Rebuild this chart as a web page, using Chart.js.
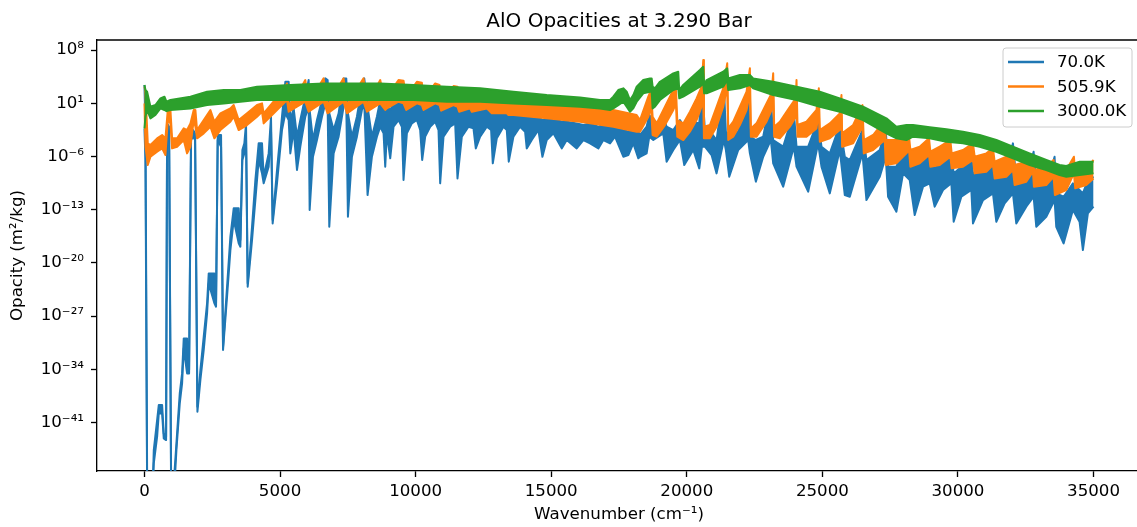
<!DOCTYPE html>
<html>
<head>
<meta charset="utf-8">
<title>AlO Opacities</title>
<script src="https://cdn.jsdelivr.net/npm/chart.js@4.4.0/dist/chart.umd.min.js"></script>
<style>
html, body { margin: 0; padding: 0; background: #fff; overflow: hidden; }
canvas { display: block; }
</style>
</head>
<body>
<canvas id="opacityChart" width="1141" height="527" style="width:1141px;height:527px"></canvas>
<script>
// Wavenumber (cm^-1) and log10 of opacity (m^2/kg): upper and lower edge of each dense line band
const blueX = [
    0, 37, 98, 307, 344, 467, 528, 651, 712, 798,
    835, 909, 982, 1105, 1179, 1302, 1388, 1449, 1572, 1646,
    1719, 1793, 1867, 1953, 2063, 2186, 2309, 2370, 2579, 2640,
    2702, 2825, 2898, 3046, 3169, 3291, 3476, 3537, 3611, 3684,
    3746, 3807, 3967, 4090, 4212, 4335, 4397, 4581, 4667, 4728,
    4888, 5072, 5195, 5318, 5379, 5502, 5625, 5748, 5932, 6055,
    6092, 6214, 6362, 6546, 6669, 6755, 6816, 6976, 7160, 7344,
    7442, 7504, 7651, 7835, 8019, 8106, 8228, 8388, 8572, 8695,
    8818, 8879, 8940, 9063, 9186, 9370, 9493, 9554, 9677, 9861,
    10046, 10168, 10242, 10353, 10537, 10721, 10844, 10905, 11028, 11274,
    11458, 11544, 11704, 11949, 12133, 12219, 12379, 12625, 12784, 12846,
    12993, 13239, 13362, 13435, 13607, 13853, 14037, 14098, 14283, 14528,
    14676, 14835, 15081, 15388, 15572, 15940, 16186, 16431, 16739, 16923,
    17169, 17353, 17660, 17844, 18028, 18213, 18274, 18519, 18617, 18765,
    18949, 19133, 19256, 19502, 19747, 19907, 20239, 20460, 20558, 20668,
    20914, 21098, 21368, 21442, 21565, 21897, 22265, 22327, 22547, 22818,
    23100, 23186, 23554, 23947, 24046, 24476, 24844, 24967, 25274, 25642,
    25827, 26011, 26478, 26625, 27116, 27337, 27423, 27730, 27976, 28221,
    28405, 28712, 28958, 29142, 29449, 29756, 29842, 30125, 30493, 30554,
    30923, 31291, 31414, 31721, 32028, 32151, 32519, 32790, 32888, 33256,
    33563, 33625, 33895, 34239, 34484, 34607, 34791, 35000
];
const blueHi = [
    3.39, -2.09, -47.7, -49.4, -44.63, -40.68, -38.71, -38.71, -42.44, -42.88,
    -1.65, -2.09, -47.7, -47.7, -43.75, -37.18, -34.55, -29.94, -29.94, -34.11,
    -2.53, -2.53, -2.96, -38.93, -34.11, -29.72, -25.33, -21.39, -21.39, -25.33,
    -3.19, -3.19, -31.03, -23.14, -16.56, -12.83, -12.83, -17.00, -5.16, -4.28,
    -1.65, -22.70, -15.25, -9.10, -4.28, -4.28, -8.67, -5.60, -0.77, -14.37,
    -7.79, -0.77, 3.83, 3.83, -1.21, 0.32, -3.40, -1.21, 1.86, 4.05,
    0.11, -3.84, -1.21, 1.42, 4.27, 4.05, -0.33, -2.53, -0.33, 4.27,
    4.27, -0.33, -3.40, -0.77, 3.17, 4.27, 0.54, -3.40, -0.77, 1.42,
    0.76, 0.54, 0.54, 0.11, 0.98, 1.20, 1.20, 0.54, 0.54, 0.98,
    1.20, 0.76, 0.54, 0.32, 0.98, 1.20, 0.76, 0.54, 0.32, 0.76,
    0.98, 0.32, 0.11, 0.54, 0.54, -0.11, -0.11, 0.32, 0.11, -0.33,
    -0.33, -0.11, -0.33, -0.55, -0.55, -0.33, -0.55, -0.77, -0.77, -0.77,
    -1.21, -1.21, -0.99, -1.43, -1.43, -1.65, -1.87, -1.65, -2.09, -1.87,
    -2.09, -2.31, -2.53, -2.75, -2.53, -2.75, -3.18, -2.09, -0.55, -1.21,
    -1.65, -0.77, -2.09, -2.53, -1.21, -2.09, -1.43, -1.65, 3.40, -2.53,
    -2.96, -3.84, 3.18, -2.75, -3.18, -2.75, 1.86, -3.40, -3.84, -3.40,
    1.86, -3.84, -4.72, -0.11, -4.72, -4.72, -1.21, -4.72, -5.60, -1.87,
    -6.04, -6.47, -2.53, -6.47, -5.16, -2.53, -7.35, -7.35, -5.16, -5.16,
    -7.35, -6.04, -5.60, -7.57, -6.47, -5.60, -8.23, -7.35, -6.04, -8.23,
    -7.79, -6.25, -9.10, -8.23, -4.28, -9.10, -9.10, -5.38, -9.98, -9.98,
    -6.04, -10.86, -11.30, -9.54, -10.42, -10.86, -9.10, -8.67
];
const blueLo = [
    -2.31, -6.47, -49.4, -49.4, -46.39, -42.88, -39.81, -39.81, -43.10, -43.32,
    -2.53, -2.96, -49.4, -49.4, -44.63, -38.49, -35.86, -31.25, -34.55, -34.55,
    -3.84, -3.40, -3.84, -39.59, -35.42, -31.47, -26.65, -22.70, -25.33, -25.77,
    -3.84, -4.72, -31.47, -24.46, -18.32, -14.37, -17.44, -17.88, -6.47, -5.60,
    -3.84, -23.14, -17.00, -11.74, -6.47, -8.23, -9.54, -7.35, -2.53, -14.81,
    -9.54, -2.53, -0.33, -1.21, -5.60, -2.53, -7.79, -4.72, -0.77, 0.54,
    -13.05, -6.04, -3.84, -0.77, 0.98, 0.54, -15.25, -5.60, -3.40, 0.54,
    0.98, -13.93, -6.04, -3.40, 0.11, 0.98, -11.08, -6.04, -3.40, -2.09,
    -2.96, -7.35, -2.96, -6.25, -2.09, -1.21, -2.09, -9.10, -2.96, -1.65,
    -1.21, -2.53, -6.47, -3.40, -2.09, -1.43, -2.53, -9.54, -3.40, -2.09,
    -1.65, -8.89, -3.40, -2.09, -2.31, -4.94, -3.40, -2.09, -2.53, -6.91,
    -3.62, -2.09, -2.53, -6.69, -3.40, -2.09, -2.75, -4.94, -3.84, -2.53,
    -6.04, -3.84, -2.96, -4.94, -3.84, -4.94, -3.84, -4.28, -4.94, -3.84,
    -4.28, -3.40, -6.04, -5.82, -4.28, -6.25, -6.04, -5.60, -3.40, -3.84,
    -3.40, -2.96, -6.69, -5.16, -3.84, -7.13, -5.16, -7.57, -4.72, -4.72,
    -5.82, -8.23, -3.84, -5.16, -8.67, -5.16, -3.84, -5.60, -9.32, -6.04,
    -3.84, -6.91, -9.98, -4.72, -7.35, -10.64, -4.28, -7.35, -10.86, -5.16,
    -11.08, -11.30, -5.60, -11.74, -8.67, -6.04, -11.30, -13.27, -8.23, -9.10,
    -13.71, -9.98, -9.54, -12.61, -10.42, -9.54, -14.59, -11.30, -10.42, -14.81,
    -11.74, -10.86, -14.59, -12.17, -10.86, -14.81, -12.61, -11.30, -15.25, -13.93,
    -11.74, -15.25, -17.44, -13.05, -14.59, -18.32, -13.49, -12.61
];

const orangeX = [
    0, 37, 123, 221, 467, 651, 774, 860, 958, 1019,
    1204, 1449, 1572, 1695, 1817, 1879, 1940, 2186, 2432, 2579,
    2800, 3168, 3291, 3475, 3783, 4151, 4336, 4396, 4704, 5072,
    5257, 5318, 5624, 5932, 6054, 6607, 6754, 7343, 7468, 8079,
    8204, 8695, 8879, 8940, 9370, 9554, 9653, 10046, 10230, 10292,
    10721, 10881, 10942, 11397, 11544, 11605, 12010, 12072, 12625, 12809,
    13361, 13423, 13607, 14835, 16063, 17291, 18150, 18274, 18581, 18679,
    18740, 18888, 19195, 19502, 19600, 19649, 19870, 20116, 20361, 20546,
    20607, 20632, 20853, 21098, 21344, 21491, 21528, 21712, 21958, 22204,
    22327, 22363, 22572, 22940, 23125, 23186, 23223, 23431, 23802, 24021,
    24046, 24083, 24414, 24783, 24869, 24906, 25274, 25642, 25704, 25728,
    26134, 26478, 26527, 26871, 27300, 27337, 27730, 28099, 28196, 28246,
    28589, 28933, 28982, 29326, 29719, 29768, 30186, 30554, 30616, 31046,
    31291, 31353, 31783, 32028, 32090, 32519, 32765, 32802, 33256, 33526,
    33575, 33993, 34276, 34325, 34730, 35000
];
const orangeHi = [
    3.17, 2.52, -4.28, -4.50, -3.62, -3.19, -3.62, 0.11, 0.11, -3.62,
    -3.62, -2.31, -2.53, -1.65, 0.11, 0.11, -2.53, -1.21, 0.11, -1.43,
    -0.33, 0.32, 0.76, -1.21, -0.33, 0.76, 0.98, -0.33, 0.98, 2.52,
    3.61, 0.76, 2.08, 4.05, 0.98, 4.27, 0.76, 4.27, 0.76, 4.27,
    0.76, 4.05, 0.76, 1.86, 4.05, 3.97, 1.86, 3.83, 3.70, 1.64,
    3.61, 3.40, 1.42, 3.26, 3.18, 1.20, 2.96, 1.20, 2.74, 1.20,
    2.52, 1.20, 1.42, 1.20, 0.76, 0.11, -0.55, -1.21, 1.86, 2.74,
    -0.77, -1.65, 0.54, 2.74, 2.96, -1.21, -1.65, -0.11, 1.64, 3.18,
    6.68, -2.09, -1.87, 0.54, 2.96, 6.25, -2.31, -1.43, 0.54, 2.52,
    5.59, -2.31, -1.65, 0.98, 2.30, 4.93, -2.09, -1.43, 0.54, 1.64,
    4.05, -1.87, -1.43, 0.11, 2.96, -2.53, -1.65, -0.33, 2.08, -2.96,
    -1.87, 0.76, -3.84, -3.18, -1.21, -3.84, -3.84, -2.96, -3.40, -5.16,
    -4.72, -3.62, -5.38, -4.72, -3.84, -5.60, -5.16, -4.28, -6.04, -5.60,
    -4.94, -6.69, -6.04, -5.38, -7.13, -6.69, -5.82, -7.79, -7.35, -6.47,
    -8.23, -7.79, -6.04, -8.23, -7.57, -6.47
];
const orangeLo = [
    0.98, -4.72, -7.13, -6.04, -5.38, -4.94, -5.82, -1.21, -1.65, -4.94,
    -4.72, -3.84, -5.60, -4.72, -1.21, -2.09, -3.62, -2.96, -2.09, -3.62,
    -2.53, -1.43, -0.77, -2.53, -1.87, -0.77, -0.12, -1.65, -0.55, 0.76,
    1.42, -0.12, 0.54, 1.20, -0.12, 1.20, -0.33, 1.20, -0.33, 1.20,
    -0.12, 0.98, 0.11, 0.32, 1.20, 0.98, 0.11, 0.98, 0.76, 0.11,
    0.98, 0.76, 0.02, 0.76, 0.54, -0.11, 0.32, -0.11, 0.32, -0.33,
    -0.33, -0.55, -0.55, -0.99, -1.43, -2.09, -2.75, -2.75, -0.77, 0.54,
    -3.18, -3.40, -1.87, 0.11, 0.98, -3.40, -3.84, -2.75, -1.21, 0.54,
    2.74, -3.62, -3.62, -2.09, 0.54, 3.18, -3.84, -3.40, -1.87, 0.11,
    2.30, -3.40, -3.40, -1.43, 0.11, 1.86, -3.40, -3.62, -2.09, -0.77,
    0.98, -3.40, -3.40, -2.31, -0.11, -4.06, -3.62, -2.53, -0.55, -4.72,
    -4.28, -2.09, -5.60, -5.16, -3.84, -7.13, -6.91, -5.60, -5.16, -7.35,
    -6.91, -5.82, -7.35, -7.13, -6.04, -7.57, -7.35, -6.47, -8.23, -8.01,
    -7.13, -8.89, -8.67, -7.79, -9.76, -9.32, -8.01, -9.98, -9.76, -8.67,
    -11.08, -10.42, -8.23, -10.20, -9.76, -8.89
];

const greenX = [
    0, 37, 98, 221, 405, 589, 737, 811, 958, 1695,
    2309, 2923, 3537, 4151, 5379, 6607, 7836, 8695, 9921, 11152,
    12379, 13606, 14836, 16063, 16800, 17168, 17290, 17474, 17658, 17783,
    17905, 18027, 18152, 18395, 18642, 18704, 18740, 18826, 19010, 19501,
    19685, 19722, 19869, 20484, 20606, 20642, 20731, 21343, 21490, 21527,
    21958, 22326, 22448, 23184, 24047, 24905, 25642, 26500, 27362, 27731,
    28099, 28343, 28958, 29573, 30185, 30800, 31415, 32027, 32642, 33257,
    33747, 33994, 34488, 35000
];
const greenHi = [
    3.39, 2.74, 2.52, 0.54, 0.76, 1.64, 1.86, 1.20, 1.42, 1.86,
    2.52, 2.74, 2.74, 3.17, 3.39, 3.61, 3.61, 3.61, 3.40, 3.18,
    2.96, 2.52, 2.08, 1.77, 1.42, 1.42, 1.86, 2.74, 2.96, 2.52,
    1.42, 2.08, 3.18, 4.05, 4.27, 4.27, 3.18, 2.96, 3.83, 4.93,
    5.14, 2.74, 3.40, 5.37, 5.80, 3.40, 4.05, 5.14, 5.59, 4.27,
    4.71, 4.71, 4.27, 3.83, 3.18, 2.52, 1.64, 0.54, -0.99, -2.09,
    -1.87, -1.87, -2.17, -2.43, -2.75, -3.18, -3.84, -4.72, -5.60, -6.47,
    -7.13, -7.26, -6.69, -6.69
];
const greenLo = [
    -2.31, -0.77, 0.11, -0.99, -0.55, 0.32, 0.11, -0.04, 0.11, 0.32,
    0.76, 0.98, 1.20, 1.42, 1.42, 1.42, 1.42, 1.42, 1.42, 1.20,
    1.20, 0.98, 0.76, 0.54, 0.32, 0.11, 0.32, 0.76, 1.20, 0.54,
    -0.11, 0.32, 1.20, 2.30, 2.52, 2.52, 0.32, 0.54, 1.42, 2.74,
    2.96, 1.64, 1.86, 3.18, 3.61, 2.30, 2.30, 3.18, 4.05, 2.74,
    2.96, 3.40, 2.96, 2.08, 1.42, 0.54, -0.11, -1.21, -2.96, -3.62,
    -3.84, -3.40, -3.62, -4.06, -4.28, -4.72, -5.38, -6.25, -7.13, -7.79,
    -8.45, -8.67, -8.45, -8.23
];

const seriesNames = ['70.0K', '505.9K', '3000.0K'];
const seriesColors = ['#1f77b4', '#ff7f0e', '#2ca02c'];
const xTicks = [0, 5000, 10000, 15000, 20000, 25000, 30000, 35000];
const yTickExps = [8, 1, -6, -13, -20, -27, -34, -41];

const FONT = 'DejaVu Sans';
const SUP = { '0': '⁰', '1': '¹', '2': '²', '3': '³', '4': '⁴', '5': '⁵', '6': '⁶', '7': '⁷', '8': '⁸', '9': '⁹', '-': '⁻' };

function toPoints(xs, logs) {
    return xs.map((x, i) => ({ x: x, y: Math.pow(10, logs[i]) }));
}

function powerLabel(value) {
    const e = Math.round(Math.log10(value));
    return '10' + String(e).split('').map(c => SUP[c]).join('');
}

// upper edge fills down to lower edge, so the dense lines read as a solid band
function bandDatasets(name, color, xs, hi, lo, order) {
    const common = {
        borderColor: color,
        backgroundColor: color,
        borderWidth: 2,
        pointRadius: 0,
        tension: 0,
        borderJoinStyle: 'round',
        order: order
    };
    return [
        Object.assign({ label: name, data: toPoints(xs, hi), fill: '+1' }, common),
        Object.assign({ label: name + ' low', data: toPoints(xs, lo), fill: false }, common)
    ];
}

const framePlugin = {
    id: 'frame',
    afterDraw(chart) {
        const { ctx, chartArea: a } = chart;
        ctx.save();
        ctx.strokeStyle = '#000';
        ctx.lineWidth = 1.33;
        ctx.beginPath();
        ctx.moveTo(a.left, a.top);
        ctx.lineTo(a.right, a.top);
        ctx.lineTo(a.right, a.bottom);
        ctx.stroke();

        // legend box in the upper right corner
        const bx = 1003, by = 48, bw = 129, bh = 79, r = 3;
        ctx.fillStyle = 'rgba(255,255,255,0.8)';
        ctx.strokeStyle = '#cccccc';
        ctx.lineWidth = 1;
        ctx.beginPath();
        ctx.moveTo(bx + r, by);
        ctx.arcTo(bx + bw, by, bx + bw, by + bh, r);
        ctx.arcTo(bx + bw, by + bh, bx, by + bh, r);
        ctx.arcTo(bx, by + bh, bx, by, r);
        ctx.arcTo(bx, by, bx + bw, by, r);
        ctx.closePath();
        ctx.fill();
        ctx.stroke();

        ctx.font = '16.67px "' + FONT + '"';
        ctx.textBaseline = 'middle';
        ctx.textAlign = 'left';
        const rows = [62, 86.5, 111];
        seriesNames.forEach((name, i) => {
            ctx.strokeStyle = seriesColors[i];
            ctx.lineWidth = 2.5;
            ctx.beginPath();
            ctx.moveTo(1008, rows[i]);
            ctx.lineTo(1044, rows[i]);
            ctx.stroke();
            ctx.fillStyle = '#000';
            ctx.fillText(name, 1057, rows[i] + 1);
        });
        ctx.restore();
    }
};

Chart.defaults.font.family = FONT;
Chart.defaults.font.size = 16.67;
Chart.defaults.color = '#000';

const ctx = document.getElementById('opacityChart').getContext('2d');
const chart = new Chart(ctx, {
    type: 'line',
    data: {
        datasets: [
            ...bandDatasets(seriesNames[2], seriesColors[2], greenX, greenHi, greenLo, 1),
            ...bandDatasets(seriesNames[1], seriesColors[1], orangeX, orangeHi, orangeLo, 2),
            ...bandDatasets(seriesNames[0], seriesColors[0], blueX, blueHi, blueLo, 3)
        ]
    },
    options: {
        responsive: false,
        animation: false,
        devicePixelRatio: 1,
        layout: { padding: { left: 0, right: 0, top: 0, bottom: 0 } },
        plugins: {
            legend: { display: false },
            tooltip: { enabled: false },
            title: {
                display: true,
                text: 'AlO Opacities at 3.290 Bar',
                fullSize: false,
                font: { size: 20, weight: 'normal' },
                padding: { top: 10, bottom: 6 }
            }
        },
        scales: {
            x: {
                type: 'linear',
                min: -1750,
                max: 36750,
                afterBuildTicks: scale => { scale.ticks = xTicks.map(v => ({ value: v })); },
                afterFit: scale => { scale.height = 56; },
                ticks: {
                    padding: 5,
                    maxRotation: 0,
                    callback: v => String(v)
                },
                grid: { display: true, drawOnChartArea: false, drawTicks: true, tickLength: 6, tickWidth: 1.33, tickColor: '#000' },
                border: { display: true, color: '#000', width: 1.33 },
                title: {
                    display: true,
                    text: 'Wavenumber (cm⁻¹)',
                    padding: { top: 0, bottom: 2 }
                }
            },
            y: {
                type: 'logarithmic',
                min: Math.pow(10, -47.39),
                max: Math.pow(10, 9.32),
                afterBuildTicks: scale => { scale.ticks = yTickExps.map(e => ({ value: Math.pow(10, e) })); },
                afterFit: scale => { scale.width = 97; },
                ticks: {
                    padding: 7,
                    callback: v => powerLabel(v)
                },
                grid: { display: true, drawOnChartArea: false, drawTicks: true, tickLength: 6, tickWidth: 1.33, tickColor: '#000' },
                border: { display: true, color: '#000', width: 1.33 },
                title: {
                    display: true,
                    text: 'Opacity (m²/kg)',
                    padding: { top: 8, bottom: 0 }
                }
            }
        }
    },
    plugins: [framePlugin]
});
</script>
</body>
</html>
